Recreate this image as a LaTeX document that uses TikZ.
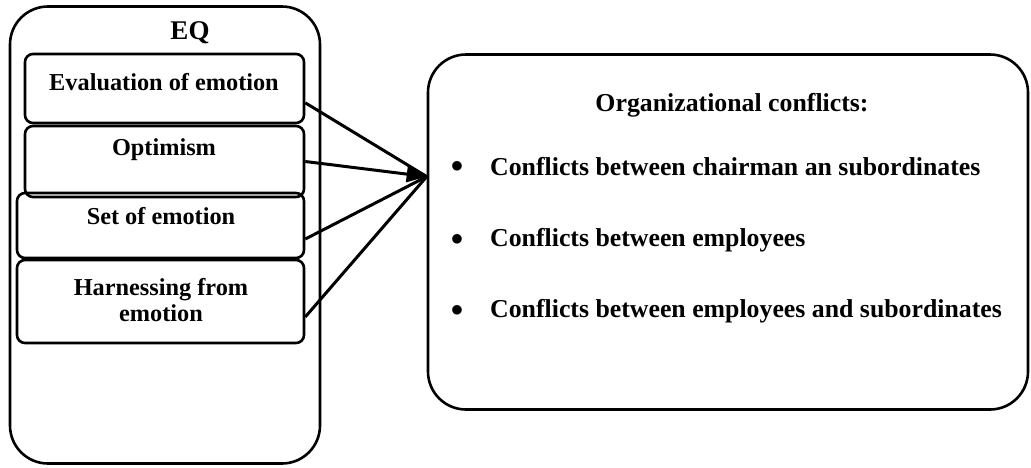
\documentclass[tikz,border=0pt]{standalone}
\usepackage{fontspec}
\setmainfont{Liberation Serif}
\usetikzlibrary{arrows.meta,calc}
\begin{document}
\begin{tikzpicture}[x=1pt,y=-1pt,
  outerbox/.style={draw,line width=2.6pt,rounded corners=38pt,inner sep=0pt},
  innerbox/.style={draw,line width=2.6pt,rounded corners=8pt,inner sep=0pt},
  txt/.style={font=\bfseries\fontsize{24.3}{27}\selectfont,inner sep=0pt,align=center},
  rtxt/.style={font=\bfseries\fontsize{25.8}{29}\selectfont,inner sep=0pt,align=center},
  conn/.style={line width=3pt}]
\useasboundingbox (0,0) rectangle (1031,467);
% outer EQ box
\node[outerbox,minimum width=310,minimum height=457] (eq) at (165,235) {};
\node[font=\bfseries\fontsize{27}{30}\selectfont,inner sep=0pt] (eqt) at (190,33) {EQ};
% inner boxes
\node[innerbox,minimum width=279,minimum height=69] (ev) at (164.5,88.5) {};
\node[innerbox,minimum width=279,minimum height=71] (op) at (164.5,161.5) {};
\node[innerbox,minimum width=287,minimum height=65] (se) at (160.5,225.5) {};
\node[innerbox,minimum width=287,minimum height=83] (ha) at (160.5,301.5) {};
\node[txt] (evt) at (164,82) {Evaluation of emotion};
\node[txt] (opt) at (164,150) {Optimism};
\node[txt] (set) at (161,216) {Set of emotion};
\node[txt,font=\bfseries\fontsize{24.3}{26.5}\selectfont] (hat) at (161,300) {Harnessing from\\emotion};
% right box
\node[outerbox,minimum width=600,minimum height=355] (oc) at (728,232) {};
\node[rtxt] (oct) at (732,105) {Organizational conflicts:};
\node[rtxt,anchor=west] (b1) at (490,167) {Conflicts between chairman an subordinates};
\node[rtxt,anchor=west] (b2) at (490,240) {Conflicts between employees};
\node[rtxt,anchor=west] (b3) at (490,311) {Conflicts between employees and subordinates};
\node[rtxt] (d1) at (457,167) {$\bullet$};
\node[rtxt] (d2) at (457,240) {$\bullet$};
\node[rtxt] (d3) at (457,311) {$\bullet$};
% connectors
\coordinate (tip) at ($(oc.north west)!0.345!(oc.south west)$);
\draw[conn] ($(ev.north east)!0.7!(ev.south east)$) -- (tip);
\draw[conn,-{Triangle[length=20pt,width=16pt]}] ($(op.north east)!0.5!(op.south east)$) -- (tip);
\draw[conn] ($(se.north east)!0.7!(se.south east)$) -- (tip);
\draw[conn] ($(ha.north east)!0.68!(ha.south east)$) -- (tip);
\end{tikzpicture}
\end{document}
